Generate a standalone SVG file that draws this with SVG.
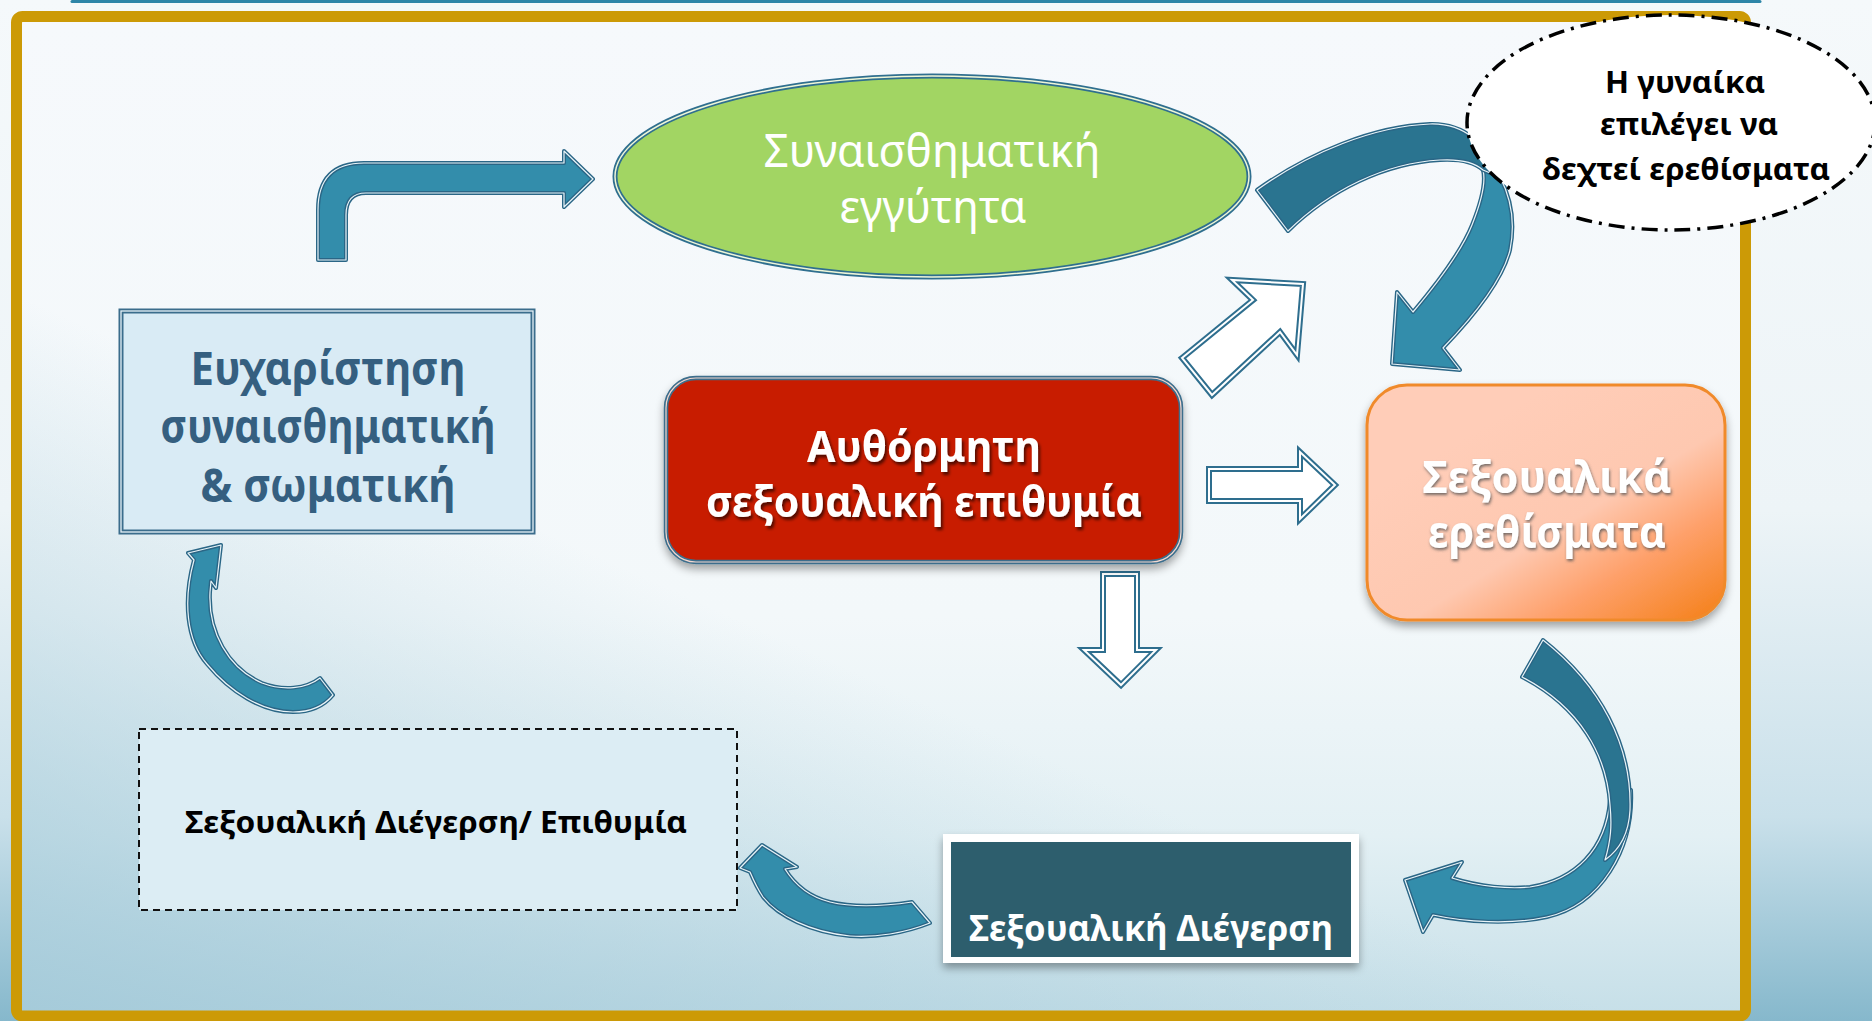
<svg xmlns="http://www.w3.org/2000/svg" xmlns:xlink="http://www.w3.org/1999/xlink" width="1872" height="1021" viewBox="0 0 1872 1021">
<defs>
  <style>
    .arr{fill:#338dab;stroke:#2a6686;stroke-width:4;stroke-linejoin:round}
    .arrd{fill:#2a7490;stroke:#2a6686;stroke-width:4;stroke-linejoin:round}
    .hl{fill:none;stroke:#e9f4f8;stroke-width:1.2;stroke-linejoin:round}
    .wa{fill:#ffffff;stroke:#2e6e8e;stroke-width:6;stroke-linejoin:miter}
    .wal{fill:none;stroke:#ffffff;stroke-width:2;stroke-linejoin:miter}
    .t{text-anchor:middle;font-family:"Noto Sans","Open Sans","DejaVu Sans",sans-serif}
    .b{font-weight:bold}
  </style>
  <linearGradient id="bgOut" x1="0" y1="0" x2="0" y2="1">
    <stop offset="0" stop-color="#f5f9fb"/>
    <stop offset="0.5" stop-color="#edf4f7"/>
    <stop offset="0.8" stop-color="#c9e0ea"/>
    <stop offset="1" stop-color="#86b8cc"/>
  </linearGradient>
  <linearGradient id="bgIn" x1="0" y1="0" x2="0" y2="1">
    <stop offset="0" stop-color="#f6f9fc"/>
    <stop offset="0.6" stop-color="#f3f8fa"/>
    <stop offset="0.82" stop-color="#e3f0f4"/>
    <stop offset="1" stop-color="#c6dfe8"/>
  </linearGradient>
  <linearGradient id="bgBL" x1="0" y1="1" x2="0.35" y2="0.55">
    <stop offset="0" stop-color="#9fc7d7" stop-opacity="0.85"/>
    <stop offset="1" stop-color="#9fc7d7" stop-opacity="0"/>
  </linearGradient>
  <linearGradient id="org" x1="0.3" y1="0.2" x2="1" y2="0.95">
    <stop offset="0" stop-color="#ffcdb8"/>
    <stop offset="0.45" stop-color="#fec8b0"/>
    <stop offset="0.7" stop-color="#fea06a"/>
    <stop offset="1" stop-color="#f5821e"/>
  </linearGradient>
  <filter id="sh" x="-10%" y="-10%" width="125%" height="135%">
    <feDropShadow dx="0" dy="5" stdDeviation="4" flood-color="#000" flood-opacity="0.35"/>
  </filter>
  <filter id="tsh" x="-10%" y="-20%" width="125%" height="150%">
    <feDropShadow dx="2" dy="3" stdDeviation="1.5" flood-color="#000" flood-opacity="0.6"/>
  </filter>
  <filter id="tsh2" x="-10%" y="-20%" width="125%" height="150%">
    <feDropShadow dx="1" dy="2" stdDeviation="1.5" flood-color="#555" flood-opacity="0.8"/>
  </filter>
  <path id="pA" d="M318 260 L318 210 Q318 163 364 163 L564 163 L564 151 L593 179 L564 207 L564 193 L366 193 Q346 193 346 215 L346 260 Z"/>
  <path id="pB" d="M221 545 L188 553 L194 560 C183 600 186 640 207 664 C230 692 262 712 293 712 C310 712 324 706 333 695 L320 678 C306 689 283 691 262 683 C228 668 208 632 210 592 L211 581 L216 588 Z"/>
  <path id="pCl" d="M1483 170 L1500 177 C1512 200 1515 225 1510 250 C1502 282 1472 318 1443 348 L1460 370 L1392 364 L1397 292 L1413 312 C1440 280 1462 250 1472 225 C1482 200 1486 182 1483 170 Z"/>
  <path id="pCd" d="M1257 190 C1310 152 1375 126 1430 124 C1465 123 1488 145 1500 177 L1483 170 C1473 161 1458 159 1440 160 C1385 163 1330 190 1288 231 Z"/>
  <path id="pD" d="M762 845 L797 867 L785 869 C795 885 810 897 830 902 C855 908 885 906 912 902 L930 923 C905 933 875 938 850 936 C810 932 778 916 763 897 C757 888 753 879 750 872 L740 868 Z"/>
  <path id="pEl" d="M1631 790 C1634 850 1600 905 1547 917 C1510 925 1465 922 1433 915 L1423 932 L1405 880 L1462 862 L1452 878 C1480 887 1510 889 1530 887 C1575 880 1606 850 1610 800 Z"/>
  <path id="pEd" d="M1543 640 C1600 685 1632 745 1630 810 C1629 830 1622 848 1605 860 C1611 840 1612 825 1610 805 C1607 755 1580 707 1522 677 Z"/>
  <path id="pW1" d="M1182 358 L1253 300 L1232 280 L1303 284 L1297 355 L1280 332 L1212 395 Z"/>
  <path id="pW2" d="M1209 469 L1300 469 L1300 452 L1335 485 L1300 519 L1300 501 L1209 501 Z"/>
  <path id="pW3" d="M1103 574 L1137 574 L1137 650 L1156 650 L1121 685 L1084 650 L1103 650 Z"/>
</defs>

<!-- background -->
<rect x="0" y="0" width="1872" height="1021" fill="url(#bgOut)"/>
<rect x="16" y="16" width="1730" height="1000" fill="url(#bgIn)"/>
<rect x="16" y="16" width="1730" height="1000" fill="url(#bgBL)"/>
<line x1="72" y1="1.5" x2="1760" y2="1.5" stroke="#2e86a8" stroke-width="3" stroke-linecap="round"/>
<rect x="16.5" y="16.5" width="1729" height="999.5" rx="6" fill="none" stroke="#cc9a06" stroke-width="11"/>

<g id="connectors">
  <use xlink:href="#pA" class="arr"/><use xlink:href="#pA" class="hl"/>
  <use xlink:href="#pB" class="arr"/><use xlink:href="#pB" class="hl"/>
  <use xlink:href="#pCl" class="arr"/><use xlink:href="#pCl" class="hl"/>
  <use xlink:href="#pCd" class="arrd"/><use xlink:href="#pCd" class="hl"/>
  <use xlink:href="#pD" class="arr"/><use xlink:href="#pD" class="hl"/>
  <use xlink:href="#pEl" class="arr"/><use xlink:href="#pEl" class="hl"/>
  <use xlink:href="#pEd" class="arrd"/><use xlink:href="#pEd" class="hl"/>
  <use xlink:href="#pW1" class="wa"/><use xlink:href="#pW1" class="wal"/>
  <use xlink:href="#pW2" class="wa"/><use xlink:href="#pW2" class="wal"/>
  <use xlink:href="#pW3" class="wa"/><use xlink:href="#pW3" class="wal"/>
</g>

<g id="node-closeness">
  <ellipse cx="932" cy="176.5" rx="317" ry="100.5" fill="#a2d563" stroke="#2f6f8f" stroke-width="5"/>
  <ellipse cx="932" cy="176.5" rx="317" ry="100.5" fill="none" stroke="#eef6d8" stroke-width="1.5"/>
  <text class="t" x="932" y="167" font-size="46" fill="#ffffff" textLength="337" lengthAdjust="spacingAndGlyphs">Συναισθηματική</text>
  <text class="t" x="933" y="223" font-size="46" fill="#ffffff" textLength="187" lengthAdjust="spacingAndGlyphs">εγγύτητα</text>
</g>

<g id="node-pleasure">
  <rect x="121" y="311" width="412" height="221" fill="#d9ebf5" stroke="#3b6d8c" stroke-width="5"/>
  <rect x="121" y="311" width="412" height="221" fill="none" stroke="#e6f1f7" stroke-width="1.3"/>
  <text class="t b" x="328" y="385" font-size="46" fill="#355f80" textLength="275" lengthAdjust="spacingAndGlyphs">Ευχαρίστηση</text>
  <text class="t b" x="328" y="443" font-size="46" fill="#355f80" textLength="335" lengthAdjust="spacingAndGlyphs">συναισθηματική</text>
  <text class="t b" x="328" y="502" font-size="46" fill="#355f80" textLength="255" lengthAdjust="spacingAndGlyphs">&amp; σωματική</text>
</g>

<g id="node-spontaneous">
  <rect x="666" y="378" width="515" height="184" rx="30" fill="#c81e00" stroke="#3c6e8c" stroke-width="4.5" filter="url(#sh)"/>
  <rect x="666" y="378" width="515" height="184" rx="30" fill="none" stroke="#f3d8d0" stroke-width="1.2"/>
  <text class="t b" x="924" y="462" font-size="43" fill="#ffffff" filter="url(#tsh)" textLength="234" lengthAdjust="spacingAndGlyphs">Αυθόρμητη</text>
  <text class="t b" x="924" y="517" font-size="43" fill="#ffffff" filter="url(#tsh)" textLength="436" lengthAdjust="spacingAndGlyphs">σεξουαλική επιθυμία</text>
</g>

<g id="node-stimuli">
  <rect x="1367" y="385" width="358" height="235" rx="40" fill="url(#org)" stroke="#f08a2c" stroke-width="3" filter="url(#sh)"/>
  <text class="t b" x="1547" y="493" font-size="44" fill="#ffffff" filter="url(#tsh2)" textLength="249" lengthAdjust="spacingAndGlyphs">Σεξουαλικά</text>
  <text class="t b" x="1547" y="548" font-size="44" fill="#ffffff" filter="url(#tsh2)" textLength="238" lengthAdjust="spacingAndGlyphs">ερεθίσματα</text>
</g>

<g id="node-choice">
  <ellipse cx="1671" cy="122.5" rx="204" ry="107.5" fill="#ffffff" stroke="#000000" stroke-width="3.5" stroke-dasharray="16 7 3 7"/>
  <text class="t b" x="1685" y="93" font-size="30" fill="#000000" textLength="160" lengthAdjust="spacingAndGlyphs">Η γυναίκα</text>
  <text class="t b" x="1689" y="135" font-size="30" fill="#000000" textLength="178" lengthAdjust="spacingAndGlyphs">επιλέγει να</text>
  <text class="t b" x="1686" y="180" font-size="30" fill="#000000" textLength="288" lengthAdjust="spacingAndGlyphs">δεχτεί ερεθίσματα</text>
</g>

<g id="node-arousal-desire">
  <rect x="139" y="729" width="598" height="181" fill="#dcedf4" stroke="#111111" stroke-width="2" stroke-dasharray="7 5"/>
  <text class="t b" x="436" y="833" font-size="30" fill="#000000" textLength="502" lengthAdjust="spacingAndGlyphs">Σεξουαλική Διέγερση/ Επιθυμία</text>
</g>

<g id="node-arousal">
  <rect x="943" y="834" width="416" height="129" fill="#ffffff" filter="url(#sh)"/>
  <rect x="951" y="842" width="400" height="115" fill="#2d5e6d"/>
  <text class="t b" x="1151" y="941" font-size="36" fill="#ffffff" textLength="364" lengthAdjust="spacingAndGlyphs">Σεξουαλική Διέγερση</text>
</g>
</svg>
